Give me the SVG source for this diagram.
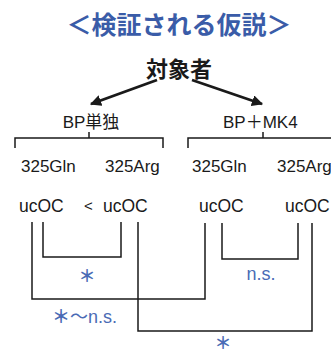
<svg xmlns="http://www.w3.org/2000/svg" width="331" height="354" viewBox="0 0 331 354">
<defs>
<style>
.t{font-family:"Liberation Sans","Noto Sans CJK JP",sans-serif;fill:#1a1a1a}
.b{font-family:"Liberation Sans","Noto Sans CJK JP",sans-serif;fill:#4a6bb5}
.ln{fill:none;stroke:#1a1a1a;stroke-width:1.5}
.ar{fill:none;stroke:#1a1a1a;stroke-width:2.8}
</style>
<marker id="ah" viewBox="0 0 10 10" refX="9" refY="5" markerWidth="4" markerHeight="4" orient="auto" markerUnits="strokeWidth">
<path d="M0,0 L10,5 L0,10 Z" fill="#1a1a1a"/>
</marker>
</defs>
<rect width="331" height="354" fill="#ffffff"/>
<g id="title">
<text x="179" y="34" text-anchor="middle" font-family="Noto Sans CJK JP,sans-serif" font-weight="bold" font-size="25" fill="#3a5ca8">＜検証される仮説＞</text>
</g>
<g id="subjects">
<text x="179" y="77" text-anchor="middle" font-family="Noto Sans CJK JP,sans-serif" font-weight="bold" font-size="22" fill="#1a1a1a">対象者</text>
</g>
<g id="bp-alone">
<text class="t" x="91" y="128" text-anchor="middle" font-size="17">BP単独</text>
<path class="ln" d="M15,148 V138 H163 V148 M89,138 V132"/>
<text class="t" x="21" y="172" font-size="17">325Gln</text>
<text class="t" x="105" y="172" font-size="17">325Arg</text>
<text class="t" x="19" y="212" font-size="17.5">ucOC</text>
<text class="t" x="84" y="211" font-size="15">&lt;</text>
<text class="t" x="103" y="212" font-size="17.5">ucOC</text>
</g>
<g id="bp-mk4">
<text class="t" x="223" y="128" font-size="17">BP＋MK4</text>
<path class="ln" d="M188,148 V138 H331 M263,138 V132"/>
<text class="t" x="192" y="172" font-size="17">325Gln</text>
<text class="t" x="277" y="172" font-size="17">325Arg</text>
<text class="t" x="199" y="212" font-size="17.5">ucOC</text>
<text class="t" x="285" y="212" font-size="17.5">ucOC</text>
</g>
<g id="connectors">
<line class="ar" x1="157" y1="80" x2="91" y2="104" marker-end="url(#ah)"/>
<line class="ar" x1="192" y1="80" x2="262" y2="104" marker-end="url(#ah)"/>
<path class="ln" d="M43,222 V257 H121 V222"/>
<path class="ln" d="M32,222 V299 H205 V223"/>
<path class="ln" d="M222,223 V259 H298 V223"/>
<path class="ln" d="M138,222 V331 H312 V223"/>
</g>
<g id="labels">
<text class="b" x="87" y="282" text-anchor="middle" font-size="17" font-weight="bold">＊</text>
<text class="b" x="261" y="280" text-anchor="middle" font-size="18">n.s.</text>
<text class="b" x="52" y="323" font-size="18"><tspan font-weight="bold">＊</tspan>〜n.s.</text>
<text class="b" x="223" y="349" text-anchor="middle" font-size="17" font-weight="bold">＊</text>
</g>
</svg>
